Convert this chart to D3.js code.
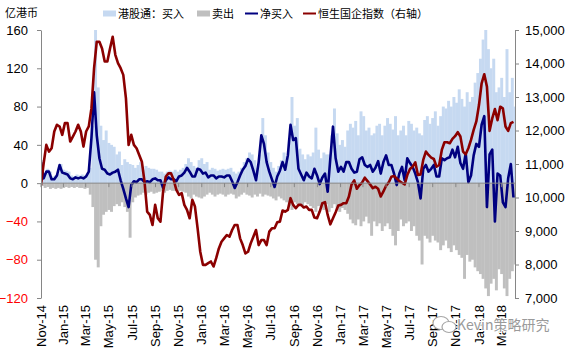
<!DOCTYPE html>
<html>
<head>
<meta charset="utf-8">
<script src="https://cdn.jsdelivr.net/npm/d3@7"></script>
<style>
  body { margin: 0; background: #fff; }
  svg { display: block; }
</style>
</head>
<body>
<svg id="chart" width="570" height="350"></svg>
<script>
// Weekly Stock Connect (southbound) flows, 100m HKD, from the week of 17 Nov 2014
const firstWeek = new Date(2014, 10, 17);

const buyFlow = [
  24,10,15,12,7,8,10,20,14,13, 12,8,7,9,8,9,8,10,16,60,
  160,100,60,45,55,42,40,38,30,33, 19,25,22,20,19,16,19,22,14,18,
  16,15,15,14,12,
  12,10,12,13,12,14,12,14,16,20, 26,22,18,16,24,26,20,22,14,16,
  15,13,14,15,14,15,16,12,10,12, 16,22,26,32,30,24,16,30,68,50,
  32,22,16,12,18,
  24,32,28,45,90,60,68,36,30,25, 30,28,32,58,35,26,32,30,30,50,
  78,52,40,45,38,55,62,58,65,50, 75,70,55,58,50,52,60,62,50,60,
  68,62,56,70,50,
  55,60,50,65,62,55,58,52,50,66, 70,62,68,75,60,70,80,78,86,80,
  90,84,98,88,80,95,85,90,105,115, 130,150,160,140,120,130,95,100,110,90,
  140,95,110,80
];

const sellFlow = [
  -3,-5,-4,-6,-5,-6,-5,-6,-5,-4, -5,-4,-5,-4,-5,-5,-6,-5,-12,-25,
  -80,-88,-45,-33,-30,-28,-30,-24,-22,-24, -20,-25,-30,-57,-20,-15,-13,-12,-10,-12,
  -10,-9,-11,-10,-9,
  -8,-10,-8,-7,-8,-8,-9,-8,-9,-10, -14,-16,-12,-14,-15,-16,-14,-12,-10,-12,
  -14,-12,-11,-12,-14,-12,-11,-12,-16,-14, -12,-10,-12,-13,-15,-12,-14,-11,-14,-12,
  -13,-14,-16,-18,-14,
  -16,-18,-20,-24,-28,-20,-22,-22,-24,-20, -22,-24,-26,-30,-24,-26,-28,-22,-30,-26,
  -22,-28,-30,-26,-28,-32,-38,-42,-44,-38, -45,-40,-35,-42,-55,-40,-45,-42,-50,-45,
  -42,-48,-55,-65,-50,
  -38,-45,-42,-40,-50,-45,-55,-60,-85,-55, -58,-62,-55,-60,-62,-70,-65,-60,-68,-72,
  -65,-70,-75,-78,-100,-75,-82,-80,-88,-92, -95,-100,-110,-118,-105,-100,-112,-90,-95,-110,
  -118,-100,-92,-85
];

const netFlow = [
  22,5,12,12,4,4,8,19,11,10, 9,5,4,6,5,6,5,7,12,47,
  95,50,26,15,14,10,9,11,12,14, 3,-6,-16,-25,-2,2,1,4,4,1,
  2,1,4,5,3,
  3,-5,3,6,4,4,2,7,8,11, 16,12,7,7,15,14,10,11,6,8,
  8,5,7,7,6,8,8,2,-5,1, 8,14,18,25,22,13,3,22,50,41,
  22,12,4,-4,7,
  13,22,14,29,61,45,47,15,9,3, 11,7,5,15,8,-1,6,10,-9,26,
  59,26,12,17,12,22,22,15,11,12, 25,27,19,17,19,12,16,23,10,22,
  29,19,19,10,-2,
  10,17,3,26,21,17,10,1,-16,15, 19,12,15,19,7,7,26,24,26,27,
  35,27,38,21,15,31,1,8,29,41, 38,61,70,-25,30,35,-40,10,8,-20,
  -25,5,20,-15
];

// Hang Seng China Enterprises Index, weekly
const hscei = [
  10370,11020,11570,11370,11470,11970,12170,12120,11870,12220,
  12220,11670,11820,11970,12170,11970,11520,11970,12120,12660,
  13860,14650,14650,14450,14060,14060,14450,14800,14260,14010,
  13860,13660,12960,11570,11870,11570,11470,11270,11070,10470,
  9580,9480,9180,9780,9380,
  9280,10180,10620,10720,10720,10520,10230,10080,10130,9780,
  9630,9380,9930,9730,9080,8380,7990,7990,8040,8090,
  7940,8190,8480,8680,8780,8880,8830,9030,9180,9180,
  8780,8580,8330,8380,8630,8830,9030,8580,8730,8730,
  8580,8980,9080,9080,9260,
  9280,9610,9580,9630,9980,9780,9680,9780,9780,9700,
  9730,9630,9630,9400,9380,9580,9830,9860,9480,9200,
  9380,9560,9760,9780,9830,9830,10030,10390,10510,10260,
  10370,10450,10590,10490,10390,10280,10320,10260,10030,10180,
  10350,10450,10620,10640,10570,
  10490,10440,10390,10670,10850,10920,11050,10670,10690,11120,
  11370,11270,11190,11150,10920,10970,11420,11650,11650,11620,
  11750,11830,11950,11820,11370,11290,11470,11720,12020,12270,
  12760,13410,13680,13310,11990,12360,12640,12310,12710,12660,
  12120,11990,12220,12260
];

const leftTicks = [-120, -80, -40, 0, 40, 80, 120, 160];
const rightTicks = [7000, 8000, 9000, 10000, 11000, 12000, 13000, 14000, 15000];
const monthLabels = ["Nov-14","Jan-15","Mar-15","May-15","Jul-15","Sep-15","Nov-15",
  "Jan-16","Mar-16","May-16","Jul-16","Sep-16","Nov-16","Jan-17","Mar-17","May-17",
  "Jul-17","Sep-17","Nov-17","Jan-18","Mar-18"];

const legendItems = [
  { label: "港股通：买入", kind: "box", color: "#c6d9f1" },
  { label: "卖出", kind: "box", color: "#bfbfbf" },
  { label: "净买入", kind: "line", color: "#000080" },
  { label: "恒生国企指数（右轴）", kind: "line", color: "#8b0000" }
];

const svg = d3.select("#chart");
const plotLeft = 41, plotRight = 515, plotTop = 30, plotBottom = 298;
const numFont = "'Liberation Sans', Arial, sans-serif";
const cjkFont = "'Noto Sans CJK SC', sans-serif";

const weeks = netFlow.map((_, i) => d3.timeWeek.offset(firstWeek, i));
const x = d3.scaleTime()
  .domain([firstWeek, new Date(2018, 3, 20)])
  .range([plotLeft, plotRight]);
const yL = d3.scaleLinear().domain([-120, 160]).range([plotBottom, plotTop]);
const yR = d3.scaleLinear().domain([7000, 15000]).range([plotBottom, plotTop]);
const barW = d => x(d3.timeWeek.offset(d, 1)) - x(d) + 0.3;

svg.append("defs").append("clipPath").attr("id", "plot")
  .append("rect").attr("x", plotLeft).attr("y", plotTop)
  .attr("width", plotRight - plotLeft).attr("height", plotBottom - plotTop);

const plot = svg.append("g").attr("clip-path", "url(#plot)");

// buy and sell bars
plot.append("g").selectAll("rect").data(weeks).join("rect")
  .attr("x", d => x(d)).attr("width", barW)
  .attr("y", (d, i) => yL(buyFlow[i]))
  .attr("height", (d, i) => yL(0) - yL(buyFlow[i]))
  .attr("fill", "#c6d9f1");
plot.append("g").selectAll("rect").data(weeks).join("rect")
  .attr("x", d => x(d)).attr("width", barW)
  .attr("y", yL(0))
  .attr("height", (d, i) => yL(sellFlow[i]) - yL(0))
  .attr("fill", "#bfbfbf");

// zero line with small category ticks
const tickDates = monthLabels.map(m => {
  const d = d3.timeDay.offset(d3.timeParse("%b-%y")(m), 14);
  return d < firstWeek ? firstWeek : d;
});
svg.append("line").attr("x1", plotLeft).attr("x2", plotRight)
  .attr("y1", yL(0)).attr("y2", yL(0))
  .attr("stroke", "#868686").attr("stroke-width", 1);
svg.append("g").selectAll("line").data(tickDates).join("line")
  .attr("x1", d => x(d)).attr("x2", d => x(d))
  .attr("y1", yL(0)).attr("y2", yL(0) + 4)
  .attr("stroke", "#868686");

// net buy line
plot.append("path")
  .datum(netFlow)
  .attr("fill", "none").attr("stroke", "#000080").attr("stroke-width", 2.6)
  .attr("stroke-linejoin", "round")
  .attr("d", d3.line().x((d, i) => x(weeks[i])).y(d => yL(d)));

// index line on the right axis
plot.append("path")
  .datum(hscei)
  .attr("fill", "none").attr("stroke", "#8b0000").attr("stroke-width", 2.6)
  .attr("stroke-linejoin", "round")
  .attr("d", d3.line().x((d, i) => x(weeks[i])).y(d => yR(d)));

// left axis
const gL = svg.append("g").attr("transform", `translate(${plotLeft},0)`)
  .call(d3.axisLeft(yL).tickValues(leftTicks).tickSize(4).tickSizeOuter(0).tickPadding(9));
gL.select(".domain").attr("stroke", "#868686");
gL.selectAll(".tick line").attr("stroke", "#868686");
gL.selectAll(".tick text")
  .attr("font-family", numFont).attr("font-size", 13)
  .attr("fill", d => d < 0 ? "#ff0000" : "#000");

// right axis
const gR = svg.append("g").attr("transform", `translate(${plotRight},0)`)
  .call(d3.axisRight(yR).tickValues(rightTicks).tickSize(4).tickSizeOuter(0)
    .tickPadding(6).tickFormat(d3.format(",")));
gR.select(".domain").attr("stroke", "#868686");
gR.selectAll(".tick line").attr("stroke", "#868686");
gR.selectAll(".tick text")
  .attr("font-family", numFont).attr("font-size", 13).attr("fill", "#000");

// rotated month labels
svg.append("g").selectAll("text").data(monthLabels).join("text")
  .attr("transform", (d, i) => `translate(${x(tickDates[i])},305) rotate(-90)`)
  .attr("text-anchor", "end").attr("dy", "0.35em")
  .attr("font-family", numFont).attr("font-size", 13).attr("fill", "#000")
  .text(d => d);

// unit title
svg.append("text").attr("x", 5).attr("y", 17)
  .attr("font-family", cjkFont).attr("font-size", 11).attr("fill", "#000")
  .text("亿港币");

// legend
const legendX = [103, 197, 245, 303];
const lg = svg.append("g").selectAll("g").data(legendItems).join("g")
  .attr("transform", (d, i) => `translate(${legendX[i]},0)`);
lg.filter(d => d.kind === "box").append("rect")
  .attr("x", 0).attr("y", 10.5).attr("width", 13).attr("height", 6)
  .attr("fill", d => d.color);
lg.filter(d => d.kind === "line").append("line")
  .attr("x1", 0).attr("x2", 13).attr("y1", 13.5).attr("y2", 13.5)
  .attr("stroke", d => d.color).attr("stroke-width", 2);
lg.append("text").attr("x", 15).attr("y", 17.5)
  .attr("font-family", cjkFont).attr("font-size", 11).attr("fill", "#000")
  .text(d => d.label);

// account mark
const mark = svg.append("g").attr("transform", "translate(432,316)");
mark.append("ellipse").attr("cx", 9).attr("cy", 7).attr("rx", 8).attr("ry", 6.5)
  .attr("fill", "#fff").attr("stroke", "#a6a6a6").attr("stroke-width", 1.2);
mark.append("ellipse").attr("cx", 17).attr("cy", 11).attr("rx", 7).attr("ry", 5.5)
  .attr("fill", "#fff").attr("stroke", "#a6a6a6").attr("stroke-width", 1.2);
svg.append("text").attr("x", 457).attr("y", 330)
  .attr("font-family", cjkFont).attr("font-size", 14)
  .attr("fill", "#9a9a9a").attr("stroke", "#fff").attr("stroke-width", 2)
  .attr("paint-order", "stroke")
  .text("Kevin策略研究");
</script>
</body>
</html>
